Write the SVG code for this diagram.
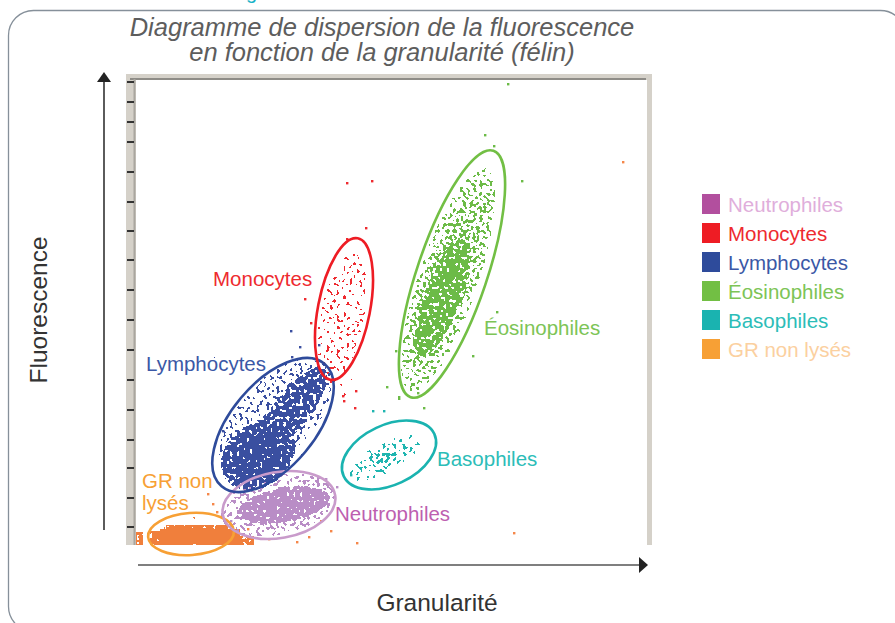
<svg xmlns="http://www.w3.org/2000/svg" width="895" height="623" viewBox="0 0 895 623">
<style>
.t{font-family:"Liberation Sans",Arial,Helvetica,sans-serif}
.ttl{font-size:25.5px;font-style:italic;fill:#5d5d5d}
.ax{font-size:24.5px;fill:#333}
.lg{font-size:20.5px}
.lb{font-size:20.5px}
.el{fill:none;stroke-width:2.6}
.tick{stroke:#333;stroke-width:2}
.dr{fill:#ee2a2f}.dg{fill:#6cbb47}.dbl{fill:#3a4fa0}.dt{fill:#1fb5b0}.dor{fill:#f5874a}.dp{fill:#b98dc6}
</style>
<defs>
<radialGradient id="gd"><stop offset="0" stop-opacity="1"/><stop offset="0.6" stop-opacity="0.95"/><stop offset="1" stop-opacity="0.7"/></radialGradient>
<radialGradient id="gs"><stop offset="0" stop-opacity="0.9"/><stop offset="1" stop-opacity="0.6"/></radialGradient>
<filter id="fLy" filterUnits="userSpaceOnUse" x="190" y="330" width="160" height="180" color-interpolation-filters="sRGB">
<feTurbulence type="fractalNoise" baseFrequency="0.3" numOctaves="1" seed="7"/>
<feColorMatrix type="matrix" values="0 0 0 0 0 0 0 0 0 0 0 0 0 0 0 0 0 0 1 0" result="n"/>
<feComposite in="SourceAlpha" in2="n" operator="arithmetic" k2="1" k3="2" k4="-1.15"/>
<feComponentTransfer result="m"><feFuncA type="discrete" tableValues="0 1"/></feComponentTransfer>
<feFlood flood-color="#3a4fa0"/><feComposite in2="m" operator="in"/>
</filter>
<filter id="fNe" filterUnits="userSpaceOnUse" x="200" y="460" width="160" height="90" color-interpolation-filters="sRGB">
<feTurbulence type="fractalNoise" baseFrequency="0.3" numOctaves="1" seed="3"/>
<feColorMatrix type="matrix" values="0 0 0 0 0 0 0 0 0 0 0 0 0 0 0 0 0 0 1 0" result="n"/>
<feComposite in="SourceAlpha" in2="n" operator="arithmetic" k2="1" k3="2" k4="-1.15"/>
<feComponentTransfer result="m"><feFuncA type="discrete" tableValues="0 1"/></feComponentTransfer>
<feFlood flood-color="#b98dc6"/><feComposite in2="m" operator="in"/>
</filter>
<filter id="fEo" filterUnits="userSpaceOnUse" x="380" y="130" width="150" height="290" color-interpolation-filters="sRGB">
<feTurbulence type="fractalNoise" baseFrequency="0.3" numOctaves="1" seed="11"/>
<feColorMatrix type="matrix" values="0 0 0 0 0 0 0 0 0 0 0 0 0 0 0 0 0 0 1 0" result="n"/>
<feComposite in="SourceAlpha" in2="n" operator="arithmetic" k2="1" k3="2" k4="-1.28"/>
<feComponentTransfer result="m"><feFuncA type="discrete" tableValues="0 1"/></feComponentTransfer>
<feFlood flood-color="#6cbb47"/><feComposite in2="m" operator="in"/>
</filter>
<filter id="fMo" filterUnits="userSpaceOnUse" x="300" y="230" width="90" height="180" color-interpolation-filters="sRGB">
<feTurbulence type="fractalNoise" baseFrequency="0.3" numOctaves="1" seed="5"/>
<feColorMatrix type="matrix" values="0 0 0 0 0 0 0 0 0 0 0 0 0 0 0 0 0 0 1 0" result="n"/>
<feComposite in="SourceAlpha" in2="n" operator="arithmetic" k2="1" k3="2" k4="-1.5"/>
<feComponentTransfer result="m"><feFuncA type="discrete" tableValues="0 1"/></feComponentTransfer>
<feFlood flood-color="#ee2a2f"/><feComposite in2="m" operator="in"/>
</filter>
<filter id="fBa" filterUnits="userSpaceOnUse" x="330" y="410" width="120" height="90" color-interpolation-filters="sRGB">
<feTurbulence type="fractalNoise" baseFrequency="0.3" numOctaves="1" seed="9"/>
<feColorMatrix type="matrix" values="0 0 0 0 0 0 0 0 0 0 0 0 0 0 0 0 0 0 1 0" result="n"/>
<feComposite in="SourceAlpha" in2="n" operator="arithmetic" k2="1" k3="2" k4="-1.38"/>
<feComponentTransfer result="m"><feFuncA type="discrete" tableValues="0 1"/></feComponentTransfer>
<feFlood flood-color="#1fb5b0"/><feComposite in2="m" operator="in"/>
</filter>
<filter id="fOr" filterUnits="userSpaceOnUse" x="134" y="515" width="130" height="31" color-interpolation-filters="sRGB">
<feTurbulence type="fractalNoise" baseFrequency="0.3" numOctaves="1" seed="2"/>
<feColorMatrix type="matrix" values="0 0 0 0 0 0 0 0 0 0 0 0 0 0 0 0 0 0 1 0" result="n"/>
<feComposite in="SourceAlpha" in2="n" operator="arithmetic" k2="1" k3="2" k4="-1.0"/>
<feComponentTransfer result="m"><feFuncA type="discrete" tableValues="0 1"/></feComponentTransfer>
<feFlood flood-color="#f07f3c"/><feComposite in2="m" operator="in"/>
</filter>
</defs>

<rect x="8.5" y="10.5" width="897" height="621" rx="25" fill="#fff" stroke="#86909a" stroke-width="1.3"/>
<text class="t" x="246" y="-1" font-size="20" fill="#1ab3c8">g</text>

<g id="title">
<text class="t ttl" x="382" y="36" text-anchor="middle">Diagramme de dispersion de la fluorescence</text>
<text class="t ttl" x="382" y="61" text-anchor="middle">en fonction de la granularité (félin)</text>
</g>

<g id="plot-frame">
<rect x="126" y="74" width="526" height="471" fill="#d5d1c9"/>
<rect x="136" y="80" width="511" height="465" fill="#fff"/>
<line x1="130" y1="79" x2="646" y2="79" stroke="#8e8c87" stroke-width="2"/>
<line x1="134.5" y1="79" x2="134.5" y2="545" stroke="#a9a69f" stroke-width="2"/>
<g class="tick">
<line x1="127" y1="82" x2="134" y2="82"/><line x1="127" y1="102" x2="134" y2="102"/><line x1="127" y1="122" x2="134" y2="122"/><line x1="127" y1="142" x2="134" y2="142"/>
<line x1="127" y1="172" x2="134" y2="172"/><line x1="127" y1="202" x2="134" y2="202"/><line x1="127" y1="231" x2="134" y2="231"/><line x1="127" y1="260" x2="134" y2="260"/>
<line x1="127" y1="290" x2="134" y2="290"/><line x1="127" y1="320" x2="134" y2="320"/><line x1="127" y1="350" x2="134" y2="350"/><line x1="127" y1="380" x2="134" y2="380"/>
<line x1="127" y1="410" x2="134" y2="410"/><line x1="127" y1="440" x2="134" y2="440"/><line x1="127" y1="468" x2="134" y2="468"/><line x1="127" y1="498" x2="134" y2="498"/>
<line x1="127" y1="527" x2="134" y2="527"/>
</g>
</g>

<g id="axes">
<line x1="104" y1="80" x2="104" y2="530" stroke="#333" stroke-width="1.6"/>
<polygon points="104,72 97,82 111,82" fill="#222"/>
<line x1="138" y1="565" x2="641" y2="565" stroke="#555" stroke-width="1.6"/>
<polygon points="648,565 639,557 639,573" fill="#222"/>
<text class="t ax" transform="translate(47,310) rotate(-90)" text-anchor="middle" font-size="25">Fluorescence</text>
<text class="t ax" x="437" y="611" text-anchor="middle">Granularité</text>
</g>

<g id="data">
<g id="dots-gr" filter="url(#fOr)">
<rect x="160" y="529" width="80" height="16" fill="#000"/>
<rect x="166" y="525" width="62" height="5" fill="#000" fill-opacity="0.85"/>
<rect x="136" y="532" width="7" height="13" fill="#000" fill-opacity="0.8"/>
<rect x="150" y="531" width="11" height="14" fill="#000" fill-opacity="0.85"/>
<rect x="240" y="536" width="14" height="9" fill="#000" fill-opacity="0.7"/>
</g>
<g id="dots-neutro" filter="url(#fNe)">
<ellipse cx="278" cy="505" rx="58" ry="30" transform="rotate(-12 278 505)" fill="#000" fill-opacity="0.5"/>
<ellipse cx="284" cy="505" rx="46" ry="17" transform="rotate(-10 284 505)" fill="#000" fill-opacity="0.97"/>
</g>
<g id="dots-lympho" filter="url(#fLy)">
<ellipse cx="275" cy="420" rx="75" ry="38" transform="rotate(-50 275 420)" fill="#000" fill-opacity="0.45"/>
<ellipse cx="292" cy="410" rx="52" ry="18" transform="rotate(-52 292 410)" fill="#000" fill-opacity="0.72"/>
<ellipse cx="258" cy="456" rx="40" ry="31" transform="rotate(-35 258 456)" fill="url(#gd)"/>
</g>
<g id="dots-mono" filter="url(#fMo)">
<ellipse cx="342" cy="318" rx="22" ry="66" transform="rotate(11 342 318)" fill="#000" fill-opacity="0.72"/>
<ellipse cx="346" cy="388" rx="8" ry="14" fill="#000" fill-opacity="0.55"/>
</g>
<g id="dots-eos" filter="url(#fEo)">
<ellipse cx="448" cy="280" rx="30" ry="118" transform="rotate(18.6 448 280)" fill="url(#gs)"/>
<ellipse cx="442" cy="298" rx="18" ry="62" transform="rotate(20 442 298)" fill="#000" fill-opacity="0.9"/>
</g>
<g id="dots-baso" filter="url(#fBa)">
<ellipse cx="385" cy="458" rx="40" ry="15" transform="rotate(-28 385 458)" fill="url(#gs)"/>
</g>
<g id="outliers">
<rect class="dg" x="507" y="83" width="2.4" height="2.4"/><rect class="dg" x="484" y="134" width="2.4" height="2.4"/><rect class="dg" x="493" y="145" width="2.4" height="2.4"/>
<rect class="dg" x="521" y="180" width="2.4" height="2.4"/><rect class="dg" x="496" y="311" width="2.4" height="2.4"/><rect class="dg" x="472" y="355" width="2.4" height="2.4"/>
<rect class="dg" x="395" y="350" width="2.4" height="2.4"/><rect class="dg" x="386" y="386" width="2.4" height="2.4"/><rect class="dg" x="398" y="396" width="2.4" height="4"/>
<rect class="dg" x="423" y="407" width="2.4" height="2.4"/><rect class="dg" x="417" y="392" width="2.4" height="2.4"/>
<rect class="dor" x="622" y="161" width="2.4" height="2.4"/><rect class="dor" x="513" y="532" width="2.4" height="2.4"/><rect class="dor" x="356" y="542" width="2.4" height="2.4"/>
<rect class="dor" x="320" y="520" width="2.4" height="2.4"/><rect class="dor" x="268" y="538" width="2.4" height="2.4"/><rect class="dor" x="296" y="541" width="2.4" height="2.4"/>
<rect class="dor" x="207" y="493" width="2.4" height="2.4"/><rect class="dor" x="212" y="503" width="2.4" height="2.4"/><rect class="dor" x="216" y="511" width="2.4" height="2.4"/>
<rect class="dor" x="247" y="528" width="2.4" height="2.4"/><rect class="dor" x="330" y="530" width="2.4" height="2.4"/><rect class="dor" x="308" y="536" width="2.4" height="2.4"/>
<rect class="dr" x="346" y="182" width="2.4" height="2.4"/><rect class="dr" x="371" y="180" width="2.4" height="2.4"/><rect class="dr" x="365" y="227" width="2.4" height="2.4"/>
<rect class="dr" x="346" y="238" width="2.4" height="2.4"/><rect class="dr" x="355" y="390" width="2.4" height="2.4"/><rect class="dr" x="342" y="395" width="2.4" height="2.4"/>
<rect class="dr" x="343" y="400" width="2.4" height="2.4"/><rect class="dr" x="354" y="407" width="2.4" height="2.4"/><rect class="dr" x="304" y="298" width="2.4" height="2.4"/>
<rect class="dr" x="310" y="322" width="2.4" height="2.4"/>
<rect class="dbl" x="290" y="330" width="2.4" height="2.4"/><rect class="dbl" x="299" y="346" width="2.4" height="2.4"/><rect class="dbl" x="291" y="356" width="2.4" height="2.4"/>
<rect class="dbl" x="318" y="344" width="2.4" height="2.4"/><rect class="dbl" x="222" y="430" width="2.4" height="2.4"/>
<rect class="dt" x="372" y="410" width="2.4" height="2.4"/><rect class="dt" x="383" y="410" width="2.4" height="2.4"/><rect class="dt" x="350" y="474" width="2.4" height="2.4"/>
<rect class="dp" x="230" y="520" width="2.4" height="2.4"/><rect class="dp" x="336" y="486" width="2.4" height="2.4"/><rect class="dp" x="325" y="478" width="2.4" height="2.4"/>
</g>
</g>

<g id="gates">
<ellipse class="el" cx="191" cy="534" rx="43" ry="21" transform="rotate(-4 191 534)" stroke="#f7a035"/>
<ellipse class="el" cx="279" cy="505" rx="57" ry="33" transform="rotate(-10 279 505)" stroke="#c99bcb"/>
<ellipse class="el" cx="273" cy="425" rx="80" ry="42" transform="rotate(-50 273 425)" stroke="#2e4b9b"/>
<ellipse class="el" cx="344" cy="309" rx="26" ry="72" transform="rotate(11 344 309)" stroke="#ee1c24"/>
<ellipse class="el" cx="452" cy="274" rx="35" ry="130" transform="rotate(18.6 452 274)" stroke="#72bf44"/>
<ellipse class="el" cx="389" cy="455" rx="50" ry="30" transform="rotate(-25 389 455)" stroke="#1ab3b0"/>
</g>

<g id="labels">
<text class="t lb" x="213" y="286" fill="#ee2a2f">Monocytes</text>
<text class="t lb" x="146" y="371" fill="#3b58a6">Lymphocytes</text>
<text class="t lb" x="484" y="335" fill="#7dc456">Éosinophiles</text>
<text class="t lb" x="437" y="466" fill="#2cbdb8">Basophiles</text>
<text class="t lb" x="335" y="521" fill="#bd5fb0">Neutrophiles</text>
<text class="t lb" x="142" y="488" fill="#f7a035">GR non</text>
<text class="t lb" x="142" y="510" fill="#f7a035">lysés</text>
</g>

<g id="legend">
<g id="leg-neutro"><rect x="702" y="194" width="18" height="20" fill="#b24f9e"/><text class="t lg" x="728" y="212" fill="#e0aedb">Neutrophiles</text></g>
<g id="leg-mono"><rect x="702" y="223" width="18" height="20" fill="#ee1c24"/><text class="t lg" x="728" y="241" fill="#ee2a2f">Monocytes</text></g>
<g id="leg-lympho"><rect x="702" y="252" width="18" height="20" fill="#2e4b9b"/><text class="t lg" x="728" y="270" fill="#3b58a6">Lymphocytes</text></g>
<g id="leg-eos"><rect x="702" y="281" width="18" height="20" fill="#72bf44"/><text class="t lg" x="728" y="299" fill="#7dc456">Éosinophiles</text></g>
<g id="leg-baso"><rect x="702" y="310" width="18" height="20" fill="#1ab3b0"/><text class="t lg" x="728" y="328" fill="#2cbdb8">Basophiles</text></g>
<g id="leg-gr"><rect x="702" y="339" width="18" height="20" fill="#f7a035"/><text class="t lg" x="728" y="357" fill="#fbd0a0">GR non lysés</text></g>
</g>
</svg>
